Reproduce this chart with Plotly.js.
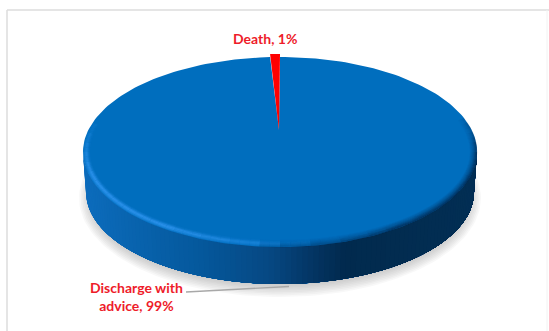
<!DOCTYPE html>
<html>
<head>
<meta charset="utf-8">
<script src="https://cdn.plot.ly/plotly-3.0.1.min.js"></script>
<style>html,body{margin:0;padding:0;background:#fff}#chart{width:549px;height:331px}</style>
</head>
<body>
<div id="chart"></div>
<script>
// Patient outcome shares
const categories = ["Discharge with advice", "Death"];
const shares = [99, 1];
const sliceColors = ["#006EBE", "#FF0000"];
const labelLines = [["Discharge with", "advice, " + shares[0] + "%"], [categories[1] + ", " + shares[1] + "%"]];
const labelColor = "#EE1C2A";

// Geometry of the tilted disc, in plot units
const disc = {cx: 280, cy: 152, rx: 197, ry: 95};
const base = {cx: 280, cy: 192, rx: 194, ry: 92};
const hub = {x: 279, y: 130};   // where the slices meet under the perspective
const lift = 3;                 // the small slice is pulled out slightly
const farSideSqueeze = 0.8;     // angles narrow on the far edge

const rad = d => d * Math.PI / 180;
const at = (e, deg, inset = 0) => [
  e.cx + (e.rx - inset) * Math.cos(rad(deg)),
  e.cy + (e.ry - inset) * Math.sin(rad(deg))
];
const traces = [];
const fillPoly = (pts, color) => traces.push({
  type: "scatter", mode: "lines", x: pts.map(p => p[0]), y: pts.map(p => p[1]),
  fill: "toself", fillcolor: color, hoverinfo: "skip",
  line: {color: color, width: 0}
});
const arc = (e, from, to, n = 180, inset = 0) => {
  const out = [];
  for (let i = 0; i <= n; i++) out.push(at(e, from + (to - from) * i / n, inset));
  return out;
};

// Soft ground shadow, built up from translucent rings
for (let i = 0; i < 9; i++) {
  const g = 9 - i * 1.6;
  fillPoly(arc({cx: 280, cy: 198, rx: 192 + g, ry: 90 + g}, 0, 360), "rgba(120,120,120,0.055)");
}

// Side wall, shaded from left to right; each band is overpainted so no seams appear
const wallStops = [[84, [12,108,188]], [140, [8,98,172]], [200, [5,88,156]], [270, [6,72,130]],
                   [320, [3,50,94]], [345, [1,42,78]], [400, [2,44,80]], [477, [2,46,84]]];
const wallColor = x => {
  for (let i = 1; i < wallStops.length; i++) {
    if (x <= wallStops[i][0]) {
      const a = wallStops[i - 1], b = wallStops[i], t = (x - a[0]) / (b[0] - a[0]);
      const c = a[1].map((v, k) => Math.round(v + (b[1][k] - v) * t));
      return `rgb(${c})`;
    }
  }
  return `rgb(${wallStops[wallStops.length - 1][1]})`;
};
const strips = 110;
for (let i = 0; i < strips; i++) {
  const start = 180 - 180 * i / strips;
  const col = wallColor(at(disc, start - 90 / strips)[0]);
  // paint from this band to the right edge; later bands cover the rest
  const span = arc(disc, start, 0, 40);
  const under = arc(base, 0, start, 40);
  fillPoly([...span, ...under, span[0]], col);
}

// Top face: every slice sweeps from the top of the disc, its angle taken from its share
const total = shares.reduce((a, b) => a + b, 0);
const deathSweep = shares[1] / total * 360 * farSideSqueeze;
const mainPts = arc(disc, -90, 270 - deathSweep, 240);
fillPoly([[hub.x, hub.y], ...mainPts, [hub.x, hub.y]], sliceColors[0]);

// Rim lighting: bright along the front left, dark on the right
const highlight = d => {
  d = ((d % 360) + 360) % 360;
  if (d < 75) return 0;
  if (d < 125) return (d - 75) / 50;
  if (d < 165) return 1;
  if (d < 200) return 1 - (d - 165) / 35;
  return 0;
};
const shade = d => {
  d = ((d % 360) + 360) % 360;
  if (d < 50) return 1;
  if (d < 100) return 1 - (d - 50) / 50;
  if (d > 335) return (d - 335) / 25;
  return 0;
};
const levels = 6;
const rimLayer = (inset, rgb, strength, peak) => {
  const buckets = Array.from({length: levels + 1}, () => ({x: [], y: []}));
  for (let d = 0; d < 360; d += 3) {
    const k = Math.round(strength(d) * levels);
    if (!k) continue;
    const p = at(disc, d, inset), q = at(disc, d + 3, inset);
    buckets[k].x.push(p[0], q[0], null);
    buckets[k].y.push(p[1], q[1], null);
  }
  buckets.forEach((b, k) => {
    if (k) traces.push({type: "scatter", mode: "lines", x: b.x, y: b.y, hoverinfo: "skip",
      line: {color: `rgba(${rgb},${(peak * k / levels).toFixed(3)})`, width: 1.3}});
  });
};
[[0.5, .25], [1.5, .55], [2.5, .8], [3.5, .95], [4.5, .7], [5.5, .35], [6.5, .15]].forEach(
  ([inset, w]) => rimLayer(inset, "48,150,240", highlight, w * 0.85));
[[0.5, .75], [1.5, .6], [2.5, .45], [3.5, .32], [4.5, .22], [5.5, .14], [6.5, .07]].forEach(
  ([inset, w]) => rimLayer(inset, "2,40,80", shade, w));

// The small slice, standing slightly proud of the far edge
const lifted = {cx: disc.cx, cy: disc.cy - lift, rx: disc.rx, ry: disc.ry};
const deathPts = arc(lifted, 270 - deathSweep, 270, 12);
fillPoly([[hub.x, hub.y], ...deathPts, [hub.x, hub.y]], sliceColors[1]);

// Leader from the outside label to the disc
traces.push({type: "scatter", mode: "lines", x: [186, 289], y: [292, 286.5], hoverinfo: "skip",
  line: {color: "#A8A8A8", width: 1.3}});

const labelFont = {family: "Lato, 'Open Sans', sans-serif", size: 14, color: labelColor, weight: 700};
const annotations = [
  {x: 265, y: 38, text: labelLines[1].join("<br>")},
  {x: 136, y: 296.5, text: labelLines[0].join("<br>")}
].map(a => ({...a, xref: "x", yref: "y", showarrow: false, align: "center",
  xanchor: "center", yanchor: "middle", font: labelFont}));

const frameColor = "#DCDCDC";
const shapes = [
  {type: "line", x0: 7, x1: 7, y0: 10, y1: 331, line: {color: frameColor, width: 1.5}},
  {type: "line", x0: 7, x1: 549, y0: 10, y1: 10, line: {color: frameColor, width: 1.5}},
  {type: "line", x0: 547, x1: 547, y0: 10, y1: 331, line: {color: "#F2F2F2", width: 1}}
];

Plotly.newPlot("chart", traces, {
  width: 549, height: 331, margin: {l: 0, r: 0, t: 0, b: 0},
  paper_bgcolor: "#fff", plot_bgcolor: "#fff", showlegend: false,
  xaxis: {range: [0, 549], visible: false, fixedrange: true},
  yaxis: {range: [331, 0], visible: false, fixedrange: true},
  annotations, shapes
}, {displayModeBar: false, staticPlot: true});
</script>
</body>
</html>
